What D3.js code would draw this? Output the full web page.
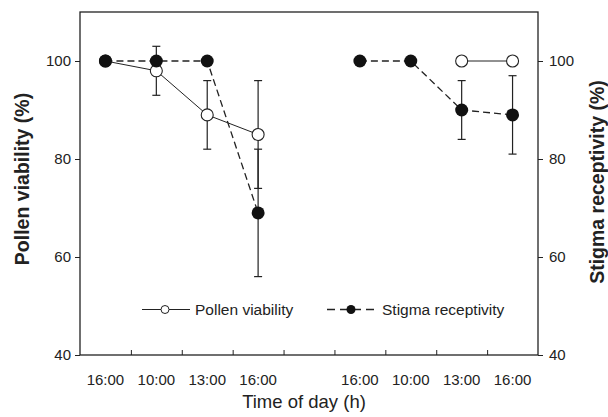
<!DOCTYPE html>
<html>
<head>
<meta charset="utf-8">
<script src="https://cdn.jsdelivr.net/npm/d3@7/dist/d3.min.js"></script>
<style>
  body { margin: 0; background: #fff; }
  svg { font-family: "Liberation Sans", Arial, sans-serif; }
</style>
</head>
<body>
<svg></svg>
<script>
// time slots, positions on a 0..9 band (two days split by a gap)
let slots = [0.5, 1.5, 2.5, 3.5, 5.5, 6.5, 7.5, 8.5]
let tickLabels = ["16:00", "10:00", "13:00", "16:00", "16:00", "10:00", "13:00", "16:00"]

// pollen viability (open circles), null = no value
let pollenMean = [100, 98, 89, 85, null, null, 100, 100]
let pollenErr = [0, 5, 7, 11, null, null, 0, 0]

// stigma receptivity (filled circles)
let stigmaMean = [100, 100, 100, 69, 100, 100, 90, 89]
let stigmaErr = [0, 0, 0, 13, 0, 0, 6, 8]

let width = 608
let height = 417
let margin = {top: 12, right: 70, bottom: 62, left: 80}

let svg = d3.select('svg')
  .attr('width', width)
  .attr('height', height)

let x = d3.scaleLinear()
  .domain([0, 9])
  .range([margin.left, width - margin.right])

let y = d3.scaleLinear()
  .domain([40, 110])
  .range([height - margin.bottom, margin.top])

let ink = '#222'

// frame
svg.append('rect')
  .attr('x', x(0)).attr('y', y(110))
  .attr('width', x(9) - x(0)).attr('height', y(40) - y(110))
  .attr('fill', 'none').attr('stroke', ink).attr('stroke-width', 1.3)

// left axis
let yLeft = svg.append('g')
  .attr('transform', `translate(${x(0)},0)`)
  .call(d3.axisLeft(y).tickValues([40, 60, 80, 100]).tickSize(5).tickPadding(4))
// right axis
let yRight = svg.append('g')
  .attr('transform', `translate(${x(9)},0)`)
  .call(d3.axisRight(y).tickValues([40, 60, 80, 100]).tickSize(5).tickPadding(6))
// bottom axis, ticks pointing inward
let xAxis = svg.append('g')
  .attr('transform', `translate(0,${y(40)})`)
  .call(d3.axisBottom(x).tickValues(d3.range(1, 9)).tickSize(-5).tickFormat(''))

for (let g of [yLeft, yRight, xAxis]) {
  g.select('.domain').remove()
  g.selectAll('line').attr('stroke', ink).attr('stroke-width', 1)
  g.selectAll('text').attr('fill', ink).style('font-size', '15px')
}

// time labels
svg.append('g').selectAll('text')
  .data(slots)
  .join('text')
  .attr('x', d => x(d))
  .attr('y', 385)
  .attr('text-anchor', 'middle')
  .attr('fill', ink)
  .style('font-size', '15px')
  .text((d, i) => tickLabels[i])

// axis titles
svg.append('text')
  .attr('x', 304)
  .attr('y', 408)
  .attr('text-anchor', 'middle')
  .attr('fill', ink)
  .style('font-size', '18.5px')
  .text('Time of day (h)')

svg.append('text')
  .attr('transform', 'translate(29,179) rotate(-90)')
  .attr('text-anchor', 'middle')
  .attr('fill', ink)
  .style('font-size', '19.5px')
  .style('font-weight', 'bold')
  .text('Pollen viability (%)')

svg.append('text')
  .attr('transform', 'translate(604,182) rotate(-90)')
  .attr('text-anchor', 'middle')
  .attr('fill', ink)
  .style('font-size', '19.5px')
  .style('font-weight', 'bold')
  .text('Stigma receptivity (%)')

let toPoints = (means, errs) => slots.map((s, i) => ({x: s, m: means[i], e: errs[i]}))
let pollen = toPoints(pollenMean, pollenErr)
let stigma = toPoints(stigmaMean, stigmaErr)

// lines break at the gap between the two days
let line = d3.line()
  .defined(d => d.m !== null)
  .x(d => x(d.x))
  .y(d => y(d.m))

let pollenSegs = [pollen.slice(0, 4), pollen.slice(6)]
let stigmaSegs = [stigma.slice(0, 4), stigma.slice(4)]

// error bars
let drawErr = (data, cls) => {
  let g = svg.append('g').attr('class', cls)
  let withErr = data.filter(d => d.m !== null && d.e > 0)
  g.selectAll('line.v').data(withErr).join('line')
    .attr('x1', d => x(d.x)).attr('x2', d => x(d.x))
    .attr('y1', d => y(d.m + d.e)).attr('y2', d => y(d.m - d.e))
    .attr('stroke', ink).attr('stroke-width', 1.2)
  g.selectAll('line.t').data(withErr).join('line')
    .attr('x1', d => x(d.x) - 4).attr('x2', d => x(d.x) + 4)
    .attr('y1', d => y(d.m + d.e)).attr('y2', d => y(d.m + d.e))
    .attr('stroke', ink).attr('stroke-width', 1.2)
  g.selectAll('line.b').data(withErr).join('line')
    .attr('x1', d => x(d.x) - 4).attr('x2', d => x(d.x) + 4)
    .attr('y1', d => y(d.m - d.e)).attr('y2', d => y(d.m - d.e))
    .attr('stroke', ink).attr('stroke-width', 1.2)
}
drawErr(pollen, 'err-pollen')
drawErr(stigma, 'err-stigma')

svg.append('g').selectAll('path')
  .data(pollenSegs)
  .join('path')
  .attr('d', line)
  .attr('fill', 'none')
  .attr('stroke', ink)
  .attr('stroke-width', 1)

svg.append('g').selectAll('path')
  .data(stigmaSegs)
  .join('path')
  .attr('d', line)
  .attr('fill', 'none')
  .attr('stroke', ink)
  .attr('stroke-width', 1.3)
  .attr('stroke-dasharray', '7,4')

// markers
svg.append('g').selectAll('circle')
  .data(pollen.filter(d => d.m !== null))
  .join('circle')
  .attr('cx', d => x(d.x)).attr('cy', d => y(d.m))
  .attr('r', 6)
  .attr('fill', '#fff').attr('stroke', ink).attr('stroke-width', 1.1)

svg.append('g').selectAll('circle')
  .data(stigma)
  .join('circle')
  .attr('cx', d => x(d.x)).attr('cy', d => y(d.m))
  .attr('r', 6.5)
  .attr('fill', '#111')

// legend
let legY = 309.5
let leg = svg.append('g')
leg.append('line')
  .attr('x1', 142).attr('x2', 190).attr('y1', legY).attr('y2', legY)
  .attr('stroke', ink).attr('stroke-width', 1)
leg.append('circle')
  .attr('cx', 165).attr('cy', legY).attr('r', 4)
  .attr('fill', '#fff').attr('stroke', ink).attr('stroke-width', 1)
leg.append('text')
  .attr('x', 195).attr('y', legY + 5.5)
  .attr('fill', ink).style('font-size', '15.5px')
  .text('Pollen viability')

leg.append('line')
  .attr('x1', 327).attr('x2', 376).attr('y1', legY).attr('y2', legY)
  .attr('stroke', ink).attr('stroke-width', 1.5)
  .attr('stroke-dasharray', '8,5')
leg.append('circle')
  .attr('cx', 351).attr('cy', legY).attr('r', 4.5)
  .attr('fill', '#111')
leg.append('text')
  .attr('x', 382).attr('y', legY + 5.5)
  .attr('fill', ink).style('font-size', '15.5px')
  .text('Stigma receptivity')
</script>
</body>
</html>
